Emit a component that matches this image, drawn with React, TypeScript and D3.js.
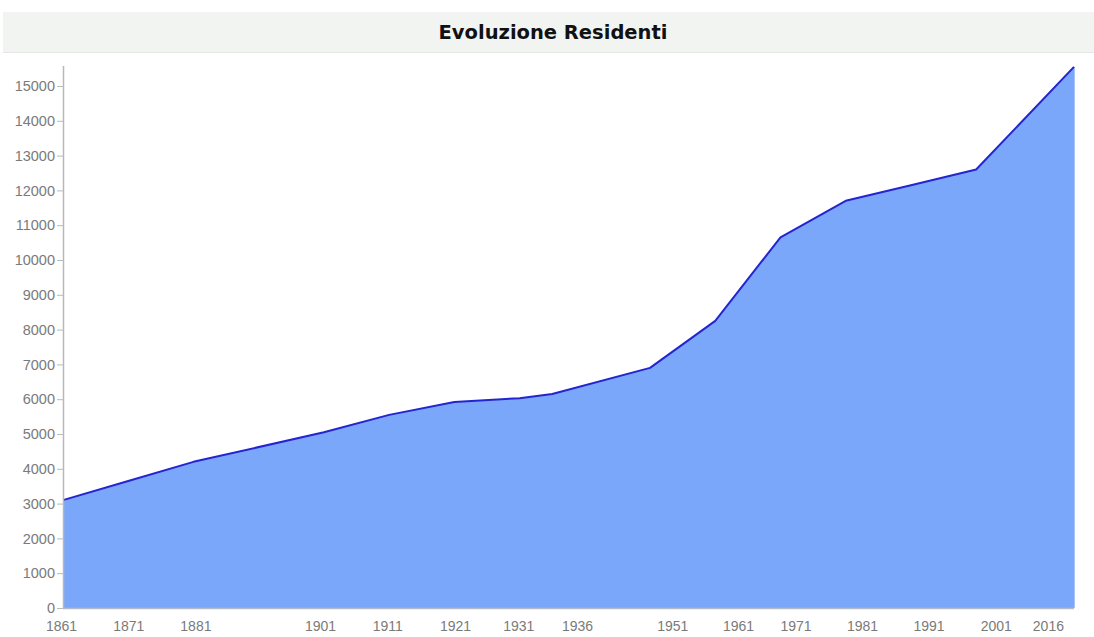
import React, { useEffect, useRef } from "react";
import * as d3 from "d3";

const years = [1861, 1871, 1881, 1901, 1911, 1921, 1931, 1936, 1951, 1961, 1971, 1981, 1991, 2001, 2016];
const residents = [3100, 3650, 4200, 5050, 5550, 5920, 6030, 6150, 6900, 8250, 10650, 11700, 12150, 12600, 15550];
const tickLabels = ["1861", "1871", "1881", "1901", "1911", "1921", "1931", "1936", "1951", "1961", "1971", "1981", "1991", "2001", "2016"];
// label anchor positions in axis (year) units
const tickLabelAt = [1860.7, 1871, 1881.3, 1900.4, 1910.7, 1921.1, 1930.8, 1939.8, 1954.4, 1964.5, 1973.3, 1983.5, 1993.7, 2004, 2012];
const yTicks = [0, 1000, 2000, 3000, 4000, 5000, 6000, 7000, 8000, 9000, 10000, 11000, 12000, 13000, 14000, 15000];
const title = "Evoluzione Residenti";

const W = 1094;
const H = 637;

export default function App() {
  const ref = useRef<SVGSVGElement | null>(null);

  useEffect(() => {
    const svg = d3.select(ref.current);
    svg.selectAll("*").remove();

    const left = 63, right = 1074, top = 66, bottom = 608;
    const x = d3.scaleLinear().domain([1861, 2016]).range([left, right]);
    const y = d3.scaleLinear().domain([0, 15000]).range([bottom, bottom - 522]);

    // title bar
    svg.append("rect").attr("x", 3).attr("y", 12).attr("width", W - 3).attr("height", 40).attr("fill", "#f2f4f2");
    svg.append("line").attr("x1", 3).attr("x2", W).attr("y1", 52.5).attr("y2", 52.5).attr("stroke", "#e4e7e4");
    svg.append("text").attr("x", 553).attr("y", 39)
      .attr("text-anchor", "middle")
      .attr("font-family", "DejaVu Sans, Verdana, sans-serif")
      .attr("font-weight", "bold").attr("font-size", 19.5).attr("fill", "#111")
      .text(title);

    const data = years.map((yr, i) => ({ yr, v: residents[i] }));

    const area = d3.area<{ yr: number; v: number }>()
      .x(d => x(d.yr)).y0(y(0)).y1(d => y(d.v));
    svg.append("path").datum(data).attr("d", area).attr("fill", "#7ba7fb");

    // right edge
    svg.append("line").attr("x1", right + 0.5).attr("x2", right + 0.5)
      .attr("y1", y(residents[residents.length - 1])).attr("y2", bottom)
      .attr("stroke", "#a9c4fb").attr("stroke-width", 1);

    const line = d3.line<{ yr: number; v: number }>().x(d => x(d.yr)).y(d => y(d.v));
    svg.append("path").datum(data).attr("d", line)
      .attr("fill", "none").attr("stroke", "#2424d0").attr("stroke-width", 2).attr("stroke-linejoin", "round");

    // x axis
    const xa = svg.append("g").attr("transform", `translate(0,${bottom})`)
      .call(d3.axisBottom(x).tickValues(tickLabelAt).tickSize(0).tickPadding(13)
        .tickFormat((_d, i) => tickLabels[i]));
    xa.select(".domain").attr("stroke", "#b4bccb").attr("stroke-width", 1.5);
    xa.selectAll("text").attr("fill", "#7a7a7a").attr("font-size", 14)
      .attr("font-family", "Liberation Sans, Arial, sans-serif");
    xa.select(".domain").attr("d", `M${left},0.5H${right}`);

    // y axis
    const ya = svg.append("g").attr("transform", `translate(${left},0)`)
      .call(d3.axisLeft(y).tickValues(yTicks).tickSize(6).tickPadding(2).tickFormat(d3.format("d")));
    ya.select(".domain").attr("d", `M0.5,${top}V${bottom}`).attr("stroke", "#b8b8b8").attr("stroke-width", 1.5);
    ya.selectAll(".tick line").attr("stroke", "#bbb");
    ya.selectAll("text").attr("fill", "#7a7a7a").attr("font-size", 14.5)
      .attr("font-family", "Liberation Sans, Arial, sans-serif");
  }, []);

  return (
    <div style={{ position: "absolute", left: 0, top: 0, width: W, height: H, background: "#fff" }}>
      <svg ref={ref} width={W} height={H} />
    </div>
  );
}
